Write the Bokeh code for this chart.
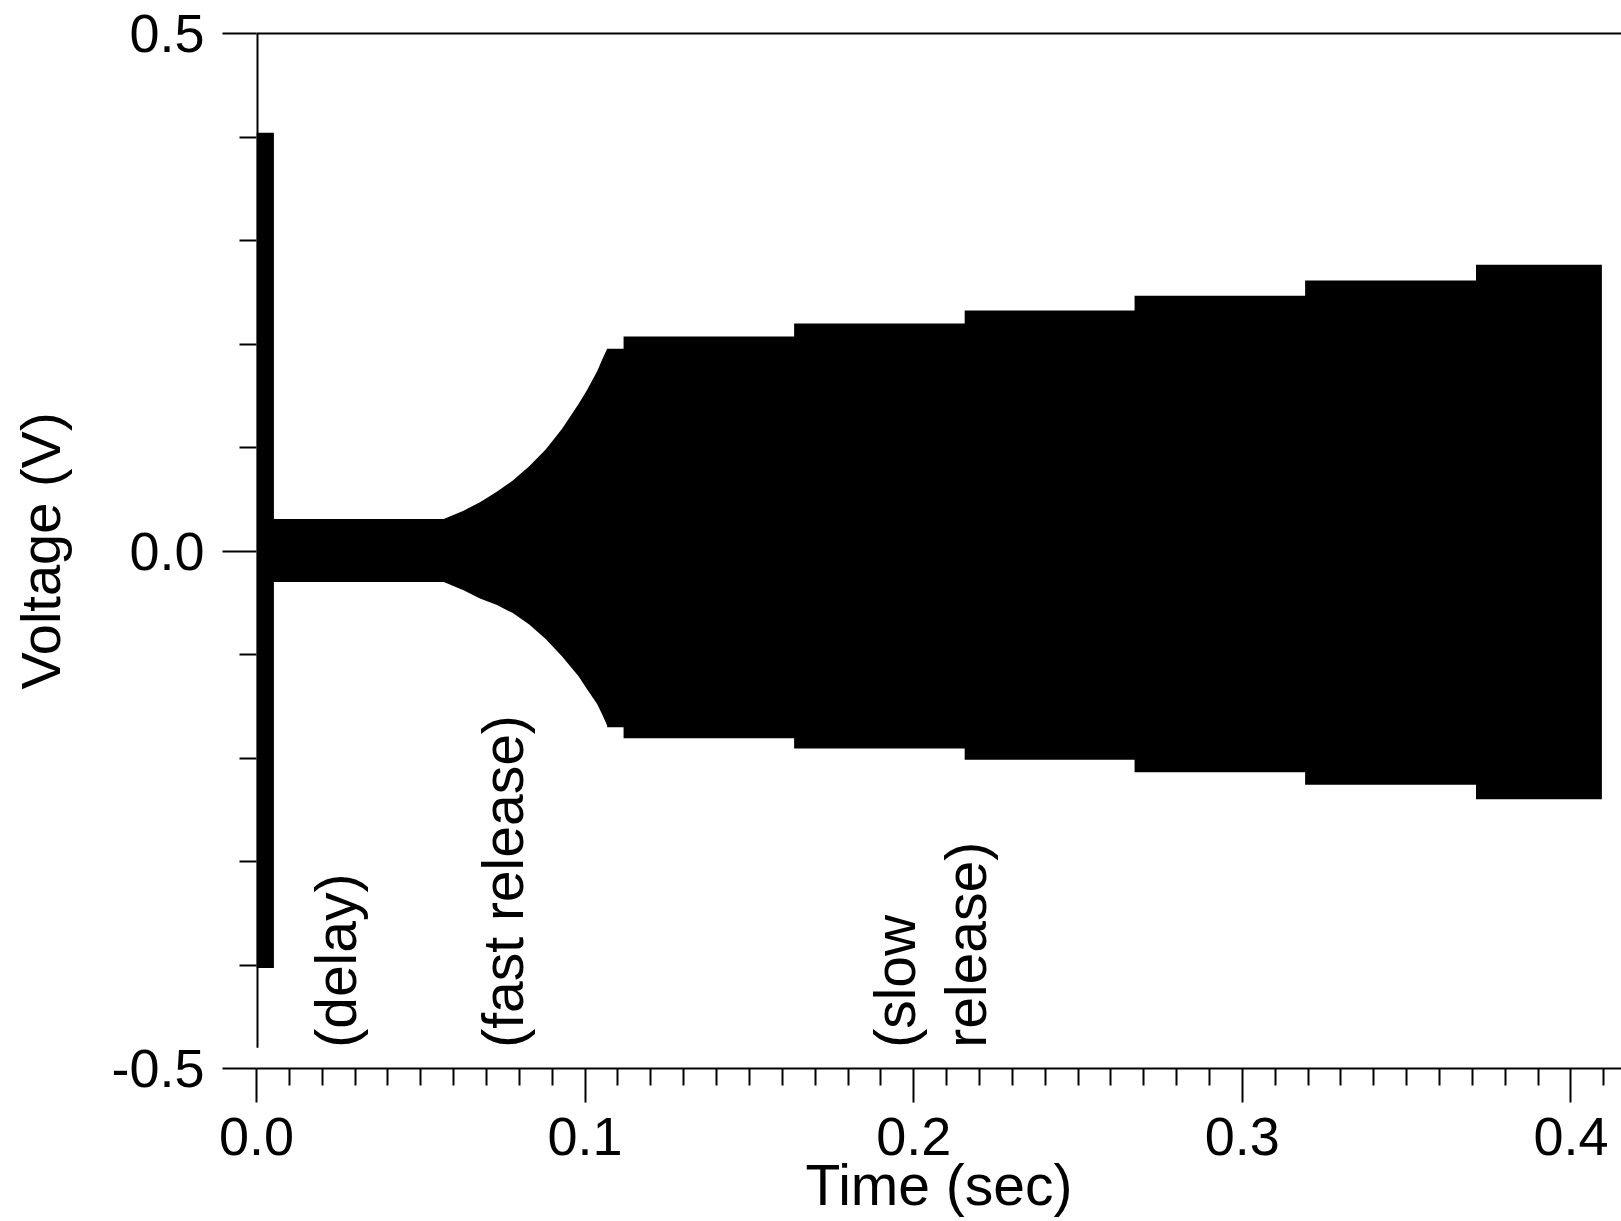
import math
from bokeh.plotting import figure
from bokeh.models import Range1d, FixedTicker, LinearAxis, ColumnDataSource, PrintfTickFormatter
from bokeh.core.properties import value
from bokeh.embed import file_html
from bokeh.resources import INLINE

# ---------------- data ----------------
# initial excitation pulse (envelope of the dense oscillation)
pulse_t = [0.0, 0.0053]
pulse_upper = [0.404, 0.404]
pulse_lower = [-0.403, -0.403]

# delay phase
delay_t = [0.0053, 0.0570]
delay_upper = [0.031, 0.031]
delay_lower = [-0.030, -0.030]

# fast release phase (growing envelope)
release_t = [0.0570, 0.0630, 0.0680, 0.0730, 0.0780, 0.0830, 0.0880,
             0.0930, 0.0980, 0.1005, 0.1037, 0.1052, 0.1067]
release_upper = [0.031, 0.039, 0.047, 0.057, 0.068, 0.082, 0.098,
                 0.118, 0.142, 0.155, 0.174, 0.185, 0.1954]
release_lower = [-0.030, -0.038, -0.046, -0.052, -0.060, -0.071, -0.085,
                 -0.102, -0.121, -0.133, -0.148, -0.158, -0.1686]

# slow release phase (stepwise envelope)
step_edges = [0.1067, 0.1117, 0.1636, 0.2155, 0.2672, 0.3191, 0.3711, 0.4094]
step_upper = [0.1954, 0.2072, 0.2198, 0.2324, 0.2466, 0.2614, 0.2765]
step_lower = [-0.1703, -0.1808, -0.1908, -0.2017, -0.2137, -0.2259, -0.2398]

# vertical trace at t = 0
spike_t = [0.0, 0.0]
spike_v = [0.5, -0.48]

x_ticks = [0.0, 0.1, 0.2, 0.3, 0.4]
y_ticks = [-0.5, 0.0, 0.5]

labels_text = ["(delay)", "(fast release)", "(slow", "release)"]
labels_t = [0.0243, 0.0749, 0.1942, 0.2158]
labels_v = [-0.48, -0.48, -0.48, -0.48]

# ---------------- build envelope ----------------
env_t, env_u, env_l = [], [], []
env_t += pulse_t; env_u += pulse_upper; env_l += pulse_lower
env_t += delay_t; env_u += delay_upper; env_l += delay_lower
env_t += release_t; env_u += release_upper; env_l += release_lower
for i in range(len(step_upper)):
    env_t += [step_edges[i], step_edges[i + 1]]
    env_u += [step_upper[i], step_upper[i]]
    env_l += [step_lower[i], step_lower[i]]

src = ColumnDataSource(dict(t=env_t, u=env_u, l=env_l))

FONT = "Liberation Sans"

p = figure(width=1621, height=1221, output_backend="svg", toolbar_location=None,
           x_range=Range1d(0.0, 0.41537), y_range=Range1d(-0.5, 0.5),
           min_border_left=256, min_border_right=0, min_border_top=33,
           min_border_bottom=153)
p.outline_line_color = None
p.xgrid.visible = False
p.ygrid.visible = False
p.background_fill_color = "white"
p.border_fill_color = "white"

p.varea(x="t", y1="l", y2="u", source=src, fill_color="black")
p.line(spike_t, spike_v, line_color="black", line_width=4)

p.text(x=labels_t, y=labels_v, text=labels_text, angle=math.pi / 2,
       text_font=value(FONT), text_font_size="57px", text_color="black",
       text_align="left", text_baseline="alphabetic")

# axes
minor_x = [round(i * 0.01, 2) for i in range(0, 42) if i % 10 != 0]
minor_y = [round(-0.5 + i * 0.1, 1) for i in range(0, 11) if i % 5 != 0]
p.xaxis.ticker = FixedTicker(ticks=x_ticks, minor_ticks=minor_x)
p.yaxis.ticker = FixedTicker(ticks=y_ticks, minor_ticks=minor_y)
p.xaxis.formatter = PrintfTickFormatter(format="%.1f")
p.yaxis.formatter = PrintfTickFormatter(format="%.1f")

for ax in (p.xaxis[0], p.yaxis[0]):
    ax.major_tick_in = 0
    ax.major_tick_out = 34
    ax.minor_tick_in = 0
    ax.minor_tick_out = 17
    ax.major_tick_line_width = 2
    ax.minor_tick_line_width = 2
    ax.axis_line_width = 2
    ax.major_tick_line_color = "black"
    ax.minor_tick_line_color = "black"
    ax.axis_line_color = "black"
    ax.major_label_text_font = FONT
    ax.major_label_text_font_size = "54px"
    ax.major_label_text_color = "black"
    ax.axis_label_text_font = FONT
    ax.axis_label_text_font_size = "56px"
    ax.axis_label_text_font_style = "normal"
    ax.axis_label_text_color = "black"

p.xaxis.axis_label_text_font_size = "57px"
p.yaxis.axis_line_color = None
p.xaxis.axis_label = "Time (sec)"
p.yaxis.axis_label = "Voltage (V)"
p.xaxis.major_label_standoff = 15
p.xaxis.axis_label_standoff = -5
p.yaxis.major_label_standoff = 18
p.yaxis.axis_label_standoff = 36

top_axis = LinearAxis(ticker=FixedTicker(ticks=[]), major_label_text_font_size="0px",
                      major_tick_line_color=None, minor_tick_line_color=None,
                      axis_line_width=2, axis_line_color="black")
p.add_layout(top_axis, "above")

open("out.html", "w").write(file_html(p, INLINE))
